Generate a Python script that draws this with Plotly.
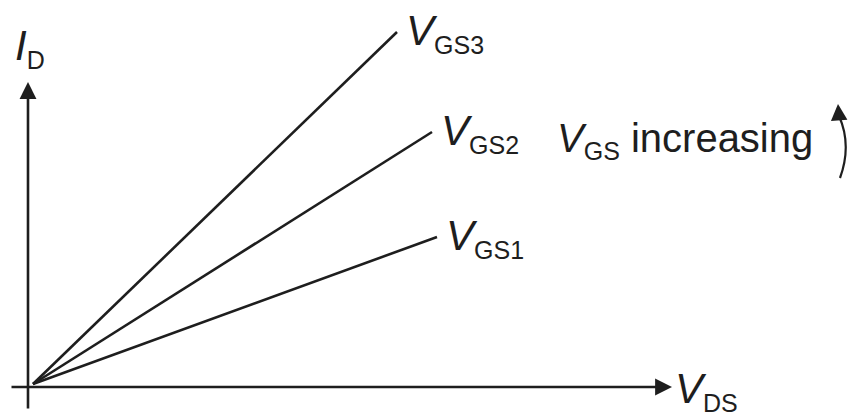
import plotly.graph_objects as go

# Data (arbitrary units; origin at 0,0)
series = ["GS1", "GS2", "GS3"]
vds_end = [404, 399, 364]
id_end = [147, 252, 352]
axis_x_max = 639
axis_y_max = 302

FONT = "Liberation Sans, Arial, sans-serif"
INK = "#1e1e1e"

fig = go.Figure()
for name, xe, ye in zip(series, vds_end, id_end):
    fig.add_trace(go.Scatter(x=[0, xe], y=[0, ye], mode="lines",
                             line=dict(color=INK, width=2.6),
                             hoverinfo="skip", showlegend=False))

def vlabel(sub):
    return "<i>V</i><sub><span style='font-size:25px'>%s</span></sub>" % sub

annotations = []
for name, xe, ye in zip(series, vds_end, id_end):
    annotations.append(dict(x=xe, y=ye, xref="x", yref="y", text=vlabel(name),
                            showarrow=False, xanchor="left", yanchor="middle",
                            xshift=7, yshift=-1,
                            font=dict(family=FONT, size=42, color=INK)))

# axes arrows
annotations.append(dict(x=axis_x_max, y=-3, ax=-23, ay=-3, xref="x", yref="y",
                        axref="x", ayref="y", text="", showarrow=True,
                        arrowhead=2, arrowsize=1.3, arrowwidth=2.6,
                        arrowcolor=INK, standoff=0))
annotations.append(dict(x=-5, y=axis_y_max, ax=-5, ay=-26, xref="x", yref="y",
                        axref="x", ayref="y", text="", showarrow=True,
                        arrowhead=2, arrowsize=1.3, arrowwidth=2.6,
                        arrowcolor=INK, standoff=0))
# axis labels
annotations.append(dict(x=axis_x_max, y=-3, xref="x", yref="y",
                        text="<i>V</i><sub><span style='font-size:25px'>DS</span></sub>",
                        showarrow=False, xanchor="left", yanchor="middle",
                        xshift=1, yshift=-4,
                        font=dict(family=FONT, size=42, color=INK)))
annotations.append(dict(x=-5, y=axis_y_max, xref="x", yref="y",
                        text="<i>I</i><sub><span style='font-size:25px'>D</span></sub>",
                        showarrow=False, xanchor="center", yanchor="bottom",
                        xshift=2, yshift=6,
                        font=dict(family=FONT, size=42, color=INK)))
# VGS increasing
annotations.append(dict(x=522, y=244, xref="x", yref="y",
                        text="<i>V</i><sub><span style='font-size:25px'>GS</span></sub> increasing",
                        showarrow=False, xanchor="left", yanchor="middle",
                        font=dict(family=FONT, size=40, color=INK)))
# curved arrow head
annotations.append(dict(x=805, y=280, ax=806, ay=266, xref="x", yref="y",
                        axref="x", ayref="y", text="", showarrow=True,
                        arrowhead=2, arrowsize=1.5, arrowwidth=2.2,
                        arrowcolor=INK, standoff=0))

shapes = [dict(type="path", xref="x", yref="y",
               path="M 807,206 Q 819,239 806,268",
               line=dict(color=INK, width=2.2))]

fig.update_layout(
    width=852, height=416,
    margin=dict(l=0, r=0, t=0, b=0),
    paper_bgcolor="white", plot_bgcolor="white",
    xaxis=dict(range=[-33, 819], visible=False, fixedrange=True),
    yaxis=dict(range=[-32, 384], visible=False, fixedrange=True),
    annotations=annotations, shapes=shapes,
    showlegend=False,
)

fig.write_html("out.html", config={"displayModeBar": False},
               post_script="document.body.style.margin='0';document.body.style.overflow='hidden';")
